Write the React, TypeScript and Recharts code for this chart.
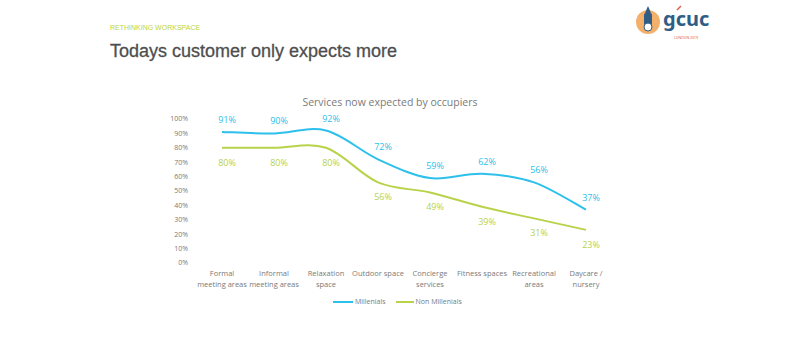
import React from "react";
import { LineChart, Line, XAxis, YAxis, LabelList } from "recharts";

const categories = [
  "Formal\nmeeting areas",
  "Informal\nmeeting areas",
  "Relaxation\nspace",
  "Outdoor space",
  "Concierge\nservices",
  "Fitness spaces",
  "Recreational\nareas",
  "Daycare /\nnursery",
];
const millenials = [91, 90, 92, 72, 59, 62, 56, 37];
const nonMillenials = [80, 80, 80, 56, 49, 39, 31, 23];
const yTicks = [0, 10, 20, 30, 40, 50, 60, 70, 80, 90, 100];

const BLUE = "#2cc0ea";
const GREEN = "#b8d24a";
const GREY = "#7a7a7a";
const FONT = "'Open Sans', 'Noto Sans', sans-serif";

const data = categories.map((c, i) => ({
  name: c,
  millenials: millenials[i],
  nonMillenials: nonMillenials[i],
}));

// office-style smoothed line (catmull-rom through every point)
const smoothCurve = (context: any) => {
  let pts: number[][] = [];
  return {
    areaStart() {},
    areaEnd() {},
    lineStart() {
      pts = [];
    },
    point(x: number, y: number) {
      pts.push([+x, +y]);
    },
    lineEnd() {
      if (!pts.length) return;
      context.moveTo(pts[0][0], pts[0][1]);
      for (let i = 0; i < pts.length - 1; i++) {
        const p0 = pts[i - 1] || pts[i];
        const p1 = pts[i];
        const p2 = pts[i + 1];
        const p3 = pts[i + 2] || p2;
        context.bezierCurveTo(
          p1[0] + (p2[0] - p0[0]) / 6,
          p1[1] + (p2[1] - p0[1]) / 6,
          p2[0] - (p3[0] - p1[0]) / 6,
          p2[1] - (p3[1] - p1[1]) / 6,
          p2[0],
          p2[1]
        );
      }
    },
  };
};

function CategoryTick(props: any) {
  const { x, y, payload } = props;
  const lines = String(payload.value).split("\n");
  return (
    <text x={x} y={y + 5} textAnchor="middle" fill={GREY} fontSize={7.5} fontFamily={FONT}>
      {lines.map((l, i) => (
        <tspan key={i} x={x} dy={i === 0 ? 0 : 11}>
          {l}
        </tspan>
      ))}
    </text>
  );
}

const makeLabel = (color: string, dy: number) => (props: any) => {
  const { x, y, value } = props;
  return (
    <text x={x + 5} y={y + dy} textAnchor="middle" fill={color} fontSize={9} fontFamily={FONT}>
      {value}%
    </text>
  );
};

function Logo() {
  return (
    <svg width={90} height={40} style={{ position: "absolute", left: 632, top: 4 }}>
      <circle cx={16} cy={18} r={12} fill="#f3b06a" />
      <rect x={12} y={9} width={8} height={16} rx={2} fill="#2f5d86" />
      <path d="M13 9 L16 2 L19 9 Z" fill="#2f5d86" />
      <circle cx={16} cy={23} r={4} fill="#fff" stroke="#2f5d86" strokeWidth={1} />
      <text x={31} y={22} fontSize={20} fontWeight={700} fill="#2f5d86" fontFamily="'Noto Sans', sans-serif">
        gcuc
      </text>
      <path d="M45 6 L49 2" stroke="#e05b4b" strokeWidth={1.5} />
      <text x={42} y={35} fontSize={3.5} fill="#e05b4b" fontFamily="'Noto Sans', sans-serif">
        LONDON 2019
      </text>
    </svg>
  );
}

export default function App() {
  return (
    <div style={{ position: "absolute", left: 0, top: 0, width: 800, height: 364, background: "#fff" }}>
      <div
        style={{
          position: "absolute",
          left: 110,
          top: 24,
          fontSize: 7,
          color: "#bcd53a",
          fontFamily: "'Liberation Sans Narrow', 'Liberation Sans', sans-serif",
        }}
      >
        RETHINKING WORKSPACE
      </div>
      <div
        style={{
          position: "absolute",
          left: 110,
          top: 41,
          fontSize: 18,
          color: "#4e4e4e",
          fontFamily: "'Liberation Sans', Arial, sans-serif",
          WebkitTextStroke: "0.3px #4e4e4e",
        }}
      >
        Todays customer only expects more
      </div>
      <Logo />
      <div
        style={{
          position: "absolute",
          left: 0,
          width: 800,
          top: 95,
          textAlign: "center",
          fontSize: 10.5,
          color: GREY,
          fontFamily: FONT,
        }}
      >
        <span style={{ marginLeft: -20 }}>Services now expected by occupiers</span>
      </div>
      <div style={{ position: "absolute", left: 0, top: 0 }}>
        <LineChart
          width={800}
          height={364}
          data={data}
          margin={{ top: 119, right: 188, bottom: 61, left: 156 }}
        >
          <XAxis
            dataKey="name"
            axisLine={false}
            tickLine={false}
            interval={0}
            padding={{ left: 26, right: 26 }}
            tick={<CategoryTick />}
            height={40}
          />
          <YAxis
            domain={[0, 100]}
            ticks={yTicks}
            interval={0}
            axisLine={false}
            tickLine={false}
            width={40}
            tick={{ fill: GREY, fontSize: 7, fontFamily: FONT }}
            tickFormatter={(v: number) => `${v}%`}
          />
          <Line
            type={smoothCurve as any}
            dataKey="millenials"
            stroke={BLUE}
            strokeWidth={2}
            dot={false}
            isAnimationActive={false}
          >
            <LabelList dataKey="millenials" content={makeLabel(BLUE, -9)} />
          </Line>
          <Line
            type={smoothCurve as any}
            dataKey="nonMillenials"
            stroke={GREEN}
            strokeWidth={2}
            dot={false}
            isAnimationActive={false}
          >
            <LabelList dataKey="nonMillenials" content={makeLabel(GREEN, 18)} />
          </Line>
        </LineChart>
      </div>
      <div
        style={{
          position: "absolute",
          top: 297,
          left: 333,
          display: "flex",
          alignItems: "center",
          fontSize: 7,
          color: GREY,
          fontFamily: FONT,
        }}
      >
        <span style={{ display: "inline-block", width: 20, height: 2, background: BLUE, marginRight: 2 }} />
        <span style={{ marginRight: 10 }}>Millenials</span>
        <span style={{ display: "inline-block", width: 18, height: 2, background: GREEN, marginRight: 2 }} />
        <span>Non Millenials</span>
      </div>
    </div>
  );
}
